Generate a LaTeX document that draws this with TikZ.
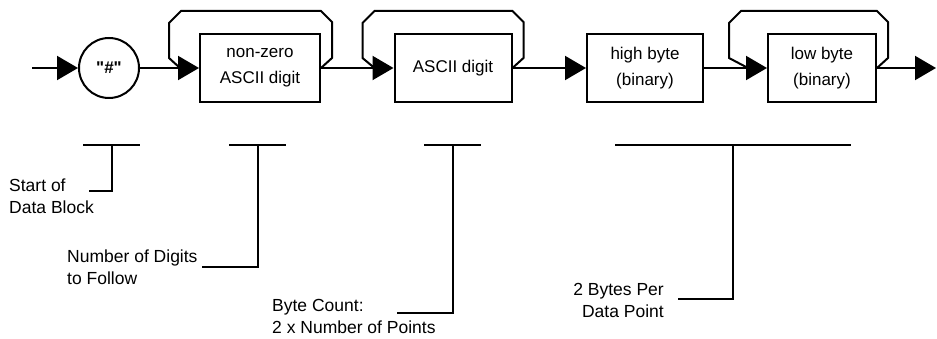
\documentclass[tikz,border=0pt]{standalone}
\usepackage{fontspec}
\setmainfont{Liberation Sans}
\newfontfamily\hashfont{Liberation Sans}[Ligatures=ResetAll]
\usetikzlibrary{arrows.meta, calc, positioning}
\tikzset{
    blockBox/.style={rectangle, draw, line width=2pt, minimum width=116pt, minimum height=68pt, align=center, inner sep=0pt, font=\fontsize{17}{26}\selectfont},
    hashNode/.style={circle, draw, line width=2pt, minimum size=60pt, inner sep=0pt, font=\hashfont\bfseries\fontsize{17}{20}\selectfont},
    flowEdge/.style={-{Triangle[length=21pt, width=24pt]}, line width=2pt},
    flowLoop/.style={line width=2pt, line join=miter},
    bracketLine/.style={line width=1.8pt},
    noteText/.style={inner sep=0pt, font=\fontsize{17.5}{22}\selectfont},
}
\newcommand{\drawLoop}[2]{
    % repeat path: leaves the box on the right, comes back before the arrow on the left
    \draw[flowLoop] (#1.east) -- ++(11,-10) -- ($(#1.north east)+(11,-11)$)
        -- ($(#1.north east)+(0,-22)$) -- ($(#1.north west)+(-#2+12,-22)$)
        -- ($(#1.north west)+(-#2,-10)$) -- ($(#1.west)+(-#2,-10)$) -- ($(#1.west)+(-19,0)$);
}
\newcommand{\drawBracket}[6]{
    % top bar, stem and leg towards the note
    \coordinate (#1a) at (#2,145);
    \coordinate (#1b) at (#3,145);
    \coordinate (#1m) at (#4,145);
    \coordinate (#1leg) at (#6,#5);
    \draw[bracketLine] (#1a) -- (#1b);
    \draw[bracketLine] (#1m) |- (#1leg);
}
\begin{document}
\begin{tikzpicture}[x=1pt, y=-1pt]
        \useasboundingbox (0,0) rectangle (937,339);

        \coordinate (in) at (32,68);
        \node[hashNode] (hash) at (109,68) {"\#"};
        \node[blockBox, minimum width=120pt] (nonzero) at (260,68) {non-zero\\ASCII digit};
        \node[blockBox, minimum width=117pt] (ascii) at (453,68) {ASCII digit};
        \node[blockBox] (high) at (645,68) {high byte\\(binary)};
        \node[blockBox, minimum width=108pt] (low) at (822,68) {low byte\\(binary)};
        \coordinate (out) at (936,68);

        \draw[flowEdge] (in) -- (hash);
        \draw[flowEdge] (hash) -- (nonzero);
        \draw[flowEdge] (nonzero) -- (ascii);
        \draw[flowEdge] (ascii) -- (high);
        \draw[flowEdge] (high) -- (low);
        \draw[flowEdge] (low) -- (out);

        \drawLoop{nonzero}{30}
        \drawLoop{ascii}{31}
        \drawLoop{low}{38}

        \node[noteText, align=left, anchor=west] (startNote) at (9,196) {Start of\\Data Block};
        \node[noteText, align=left, anchor=west] (digitsNote) at (67,267) {Number of Digits\\to Follow};
        \node[noteText, align=left, anchor=west] (countNote) at (272,316) {Byte Count:\\2 x Number of Points};
        \node[noteText, align=right, anchor=east] (pointNote) at (664,300) {2 Bytes Per\\Data Point};

        \drawBracket{start}{83}{140}{112}{191}{89}
        \drawBracket{digits}{229}{286}{258}{267}{202}
        \drawBracket{count}{424}{481}{453}{313}{397}
        \drawBracket{point}{615}{851}{733}{299}{678}

    \end{tikzpicture}
\end{document}
